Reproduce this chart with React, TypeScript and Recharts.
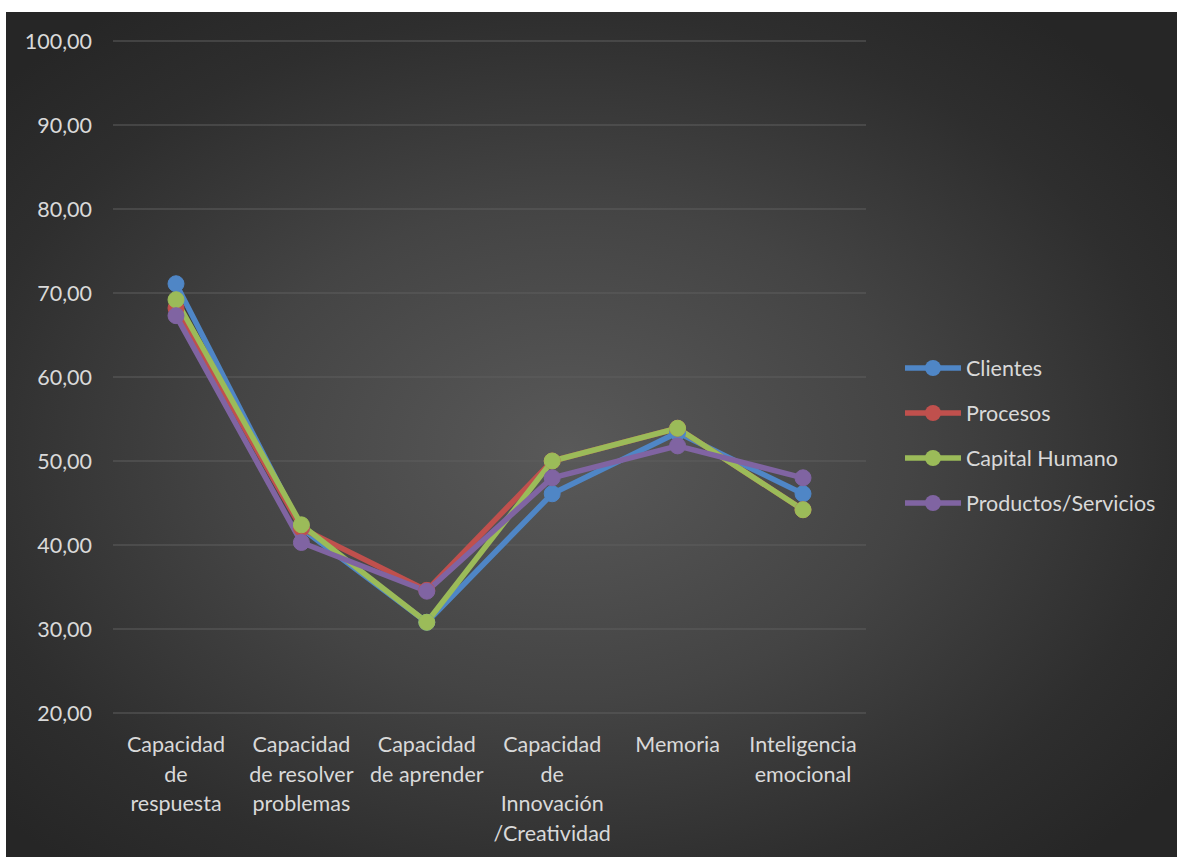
import React from 'react';
import { LineChart, Line, XAxis, YAxis, CartesianGrid, Legend } from 'recharts';

const categories = [
  'Capacidad\nde\nrespuesta',
  'Capacidad\nde resolver\nproblemas',
  'Capacidad\nde aprender',
  'Capacidad\nde\nInnovación\n/Creatividad',
  'Memoria',
  'Inteligencia\nemocional',
];

const clientes = [71.1, 42.0, 30.8, 46.1, 53.4, 46.1];
const procesos = [68.2, 42.0, 34.6, 50.0, 53.9, 44.2];
const capitalHumano = [69.2, 42.4, 30.8, 50.0, 53.9, 44.2];
const productosServicios = [67.3, 40.3, 34.5, 48.0, 51.8, 48.0];

const yTicks = [20, 30, 40, 50, 60, 70, 80, 90, 100];

const series = [
  { key: 'clientes', name: 'Clientes', values: clientes, color: '#4f86c6' },
  { key: 'procesos', name: 'Procesos', values: procesos, color: '#c0504d' },
  { key: 'capital', name: 'Capital Humano', values: capitalHumano, color: '#9bbb59' },
  { key: 'productos', name: 'Productos/Servicios', values: productosServicios, color: '#8064a2' },
];

const data = categories.map((name, i) => {
  const row: Record<string, string | number> = { name };
  series.forEach((s) => {
    row[s.key] = s.values[i];
  });
  return row;
});

const FONT = 'Lato, "Liberation Sans", sans-serif';
const TEXT = '#d9d9d9';
const FS = 21.5;

const CategoryTick = (props: any) => {
  const { x, y, payload } = props;
  const lines = String(payload.value).split('\n');
  return (
    <text x={x} y={y + 31} textAnchor="middle" fill={TEXT} fontSize={FS} fontFamily={FONT}>
      {lines.map((l, i) => (
        <tspan key={i} x={x} dy={i === 0 ? 0 : 29.5}>
          {l}
        </tspan>
      ))}
    </text>
  );
};

const LegendContent = () => (
  <div style={{ width: 270, paddingLeft: 39, paddingTop: 2, boxSizing: 'border-box', fontFamily: FONT }}>
    {series.map((s) => (
      <div key={s.key} style={{ display: 'flex', alignItems: 'center', height: 45, whiteSpace: 'nowrap' }}>
        <svg width={56} height={20} style={{ marginRight: 5, flexShrink: 0 }}>
          <line x1={1} y1={10} x2={55} y2={10} stroke={s.color} strokeWidth={5.5} strokeLinecap="round" />
          <circle cx={28} cy={10} r={8} fill={s.color} />
        </svg>
        <span style={{ color: TEXT, fontSize: FS }}>{s.name}</span>
      </div>
    ))}
  </div>
);

const App: React.FC = () => {
  return (
    <div
      style={{
        position: 'absolute',
        left: 6,
        top: 12,
        width: 1171,
        height: 845,
        background:
          'radial-gradient(ellipse 65% 65% at 48% 52%, #595959 0%, #444444 45%, #2e2e2e 80%, #262626 100%)',
      }}
    >
      <LineChart width={1171} height={845} data={data} margin={{ top: 29, right: 41, bottom: 0, left: 0 }}>
        <CartesianGrid vertical={false} stroke="#5e5e5e" strokeWidth={1.2} />
        <XAxis
          dataKey="name"
          axisLine={false}
          tickLine={false}
          interval={0}
          tick={<CategoryTick />}
          height={144}
          padding={{ left: 63, right: 63 }}
        />
        <YAxis
          domain={[20, 100]}
          ticks={yTicks}
          axisLine={false}
          tickLine={false}
          tickSize={0}
          tickMargin={21}
          width={107}
          tick={{ fill: TEXT, fontSize: FS, fontFamily: FONT }}
          tickFormatter={(v: number) => v.toFixed(2).replace('.', ',')}
        />
        <Legend layout="vertical" align="right" verticalAlign="middle" content={<LegendContent />} />
        {series.map((s) => (
          <Line
            key={s.key}
            dataKey={s.key}
            name={s.name}
            stroke={s.color}
            strokeWidth={5.5}
            strokeLinejoin="round"
            dot={{ r: 8, fill: s.color, stroke: s.color, strokeWidth: 1 }}
            activeDot={false}
            isAnimationActive={false}
          />
        ))}
      </LineChart>
    </div>
  );
};

export default App;
